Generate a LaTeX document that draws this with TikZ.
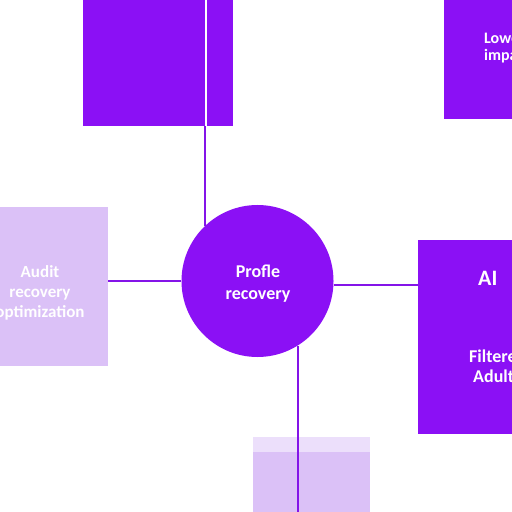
\documentclass[tikz,border=0pt]{standalone}
\usepackage{fontspec}
\setmainfont{Carlito}
\definecolor{dark}{HTML}{8B10F5}
\definecolor{light}{HTML}{DBC1F7}
\definecolor{pale}{HTML}{ECDFFB}
\definecolor{wire}{HTML}{8414E8}
\begin{document}
\begin{tikzpicture}[x=1bp,y=-1bp,
  darkbox/.style={fill=dark,draw=none,inner sep=0pt},
  lightbox/.style={fill=light,draw=none,inner sep=0pt},
  hub/.style={circle,fill=dark,draw=none,inner sep=0pt,minimum size=152bp},
  lbl/.style={text=white,inner sep=0pt,align=center},
  wireline/.style={draw=wire,line width=2bp}]
\useasboundingbox (0,0) rectangle (512,512);
\begin{scope}[overlay]
\clip (0,0) rectangle (512,512);
\fill[white] (0,0) rectangle (512,512);
% boxes
\node[darkbox,minimum width=150bp,minimum height=146bp,anchor=south west] (top) at (83,126) {};
\node[darkbox,minimum width=160bp,minimum height=139bp,anchor=south west] (topright) at (444,119) {};
\node[lightbox,minimum width=128bp,minimum height=159bp,anchor=north west] (left) at (-20,207) {};
\node[darkbox,minimum width=160bp,minimum height=194bp,anchor=north west] (right) at (418,240) {};
\node[lightbox,minimum width=117bp,minimum height=90bp,anchor=north west] (bottom) at (253,437) {};
\node[fill=pale,inner sep=0pt,minimum width=117bp,minimum height=15bp,anchor=north west] (bottomstrip) at (253,437) {};
\coordinate (bend) at (298,512);
% hub
\node[hub] (c) at (257.5,281) {};
% connectors
\draw[wireline] (c.134) -- (c.134 |- top.south);
\draw[white,line width=2bp] (c.134 |- top.south) ++(1.5,0) coordinate (ws) -- (ws |- top.north);
\draw[wireline] (c.180) -- (c.180 -| left.east);
\draw[wireline] (c.-3) -- (c.-3 -| right.west);
\draw[wireline] (c.-58) -- (c.-58 |- bend);
% texts
\node[lbl,font=\bfseries\fontsize{18bp}{22bp}\selectfont] (hubt) at (258,284) {Profle\\recovery};
\node[lbl,font=\bfseries\fontsize{17bp}{20bp}\selectfont] (leftt) at (40,293) {Audit\\recovery\\optimization};
\node[lbl,font=\bfseries\fontsize{22bp}{24bp}\selectfont,anchor=base west] (ai) at (478,285) {AI};
\node[lbl,font=\bfseries\fontsize{18bp}{20bp}\selectfont,anchor=base west] (f1) at (469,362) {Filtered};
\node[lbl,font=\bfseries\fontsize{18bp}{20bp}\selectfont,anchor=base west] (f2) at (473,382) {Adult};
\node[lbl,font=\bfseries\fontsize{16bp}{18bp}\selectfont,anchor=base west] (t1) at (484,44) {Lower};
\node[lbl,font=\bfseries\fontsize{16bp}{18bp}\selectfont,anchor=base west] (t2) at (484,61) {impact};
\end{scope}
\end{tikzpicture}
\end{document}
